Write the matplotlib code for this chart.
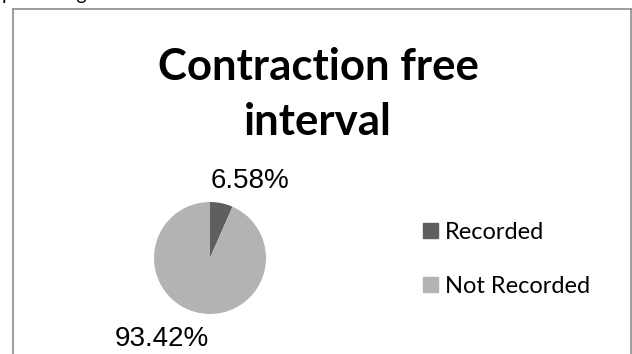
import matplotlib.pyplot as plt
from matplotlib.lines import Line2D
from matplotlib.patches import Rectangle

categories = ["Recorded", "Not Recorded"]
shares = [6.58, 93.42]
colors = ["#5f5f5f", "#b3b3b3"]

W, H = 632, 354
fig = plt.figure(figsize=(W / 100, H / 100), dpi=100)
fig.patch.set_facecolor("white")


def fx(px):
    return px / W


def fy(py):
    return 1 - py / H


# chart frame (open at the bottom edge of the crop)
frame = dict(color="#8c8c8c", lw=1.2, transform=fig.transFigure)
fig.add_artist(Line2D([fx(12.5), fx(12.5)], [fy(8.5), 0], **frame))
fig.add_artist(Line2D([fx(12.5), fx(630.5)], [fy(8.5), fy(8.5)], **frame))
fig.add_artist(Line2D([fx(630.5), fx(630.5)], [fy(8.5), 0], **frame))

# last line of body text above the chart, cut by the page edge
fig.text(fx(2), fy(3), "percentage.", fontsize=14, family="Lato",
         va="bottom", ha="left")

fig.text(fx(318), fy(80), "Contraction free", fontsize=31.5, fontweight="bold",
         family="Lato", ha="center", va="baseline")
fig.text(fx(318), fy(135), "interval", fontsize=31.5, fontweight="bold",
         family="Lato", ha="center", va="baseline")

ax = fig.add_axes([fx(154), fy(314), 112 / W, 112 / H])
ax.pie(shares, colors=colors, startangle=90, counterclock=False,
       wedgeprops=dict(linewidth=0))
ax.set_xlim(-1, 1)
ax.set_ylim(-1, 1)
ax.set_aspect("equal")
ax.axis("off")

fig.text(fx(250), fy(188), f"{shares[0]:.2f}%", fontsize=20,
         family="Liberation Sans", ha="center", va="baseline")
fig.text(fx(162), fy(346), f"{shares[1]:.2f}%", fontsize=20,
         family="Liberation Sans", ha="center", va="baseline")

# legend
for i, (name, col) in enumerate(zip(categories, colors)):
    base = 239 + i * 54
    fig.add_artist(Rectangle((fx(423), fy(base - 1)), 15 / W, 15 / H, color=col,
                             transform=fig.transFigure))
    fig.text(fx(445), fy(base), name, fontsize=17, family="Lato",
             ha="left", va="baseline")

fig.savefig("out.png", dpi=100)
